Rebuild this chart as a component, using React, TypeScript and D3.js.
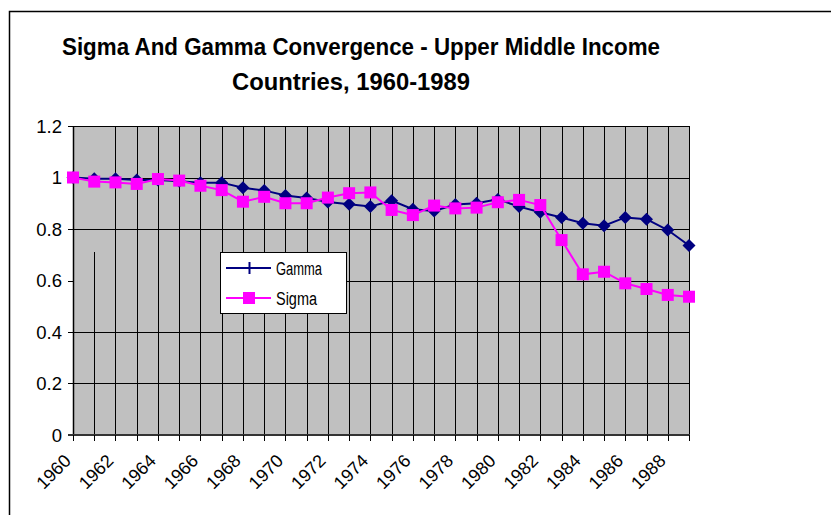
import { useEffect, useRef } from 'react'
import * as d3 from 'd3'

const years = [
  1960, 1961, 1962, 1963, 1964, 1965, 1966, 1967, 1968, 1969,
  1970, 1971, 1972, 1973, 1974, 1975, 1976, 1977, 1978, 1979,
  1980, 1981, 1982, 1983, 1984, 1985, 1986, 1987, 1988, 1989
]

const gamma = [
  1.0, 0.995, 0.995, 0.99, 0.99, 0.985, 0.98, 0.98, 0.96, 0.95,
  0.93, 0.92, 0.905, 0.896, 0.887, 0.91, 0.877, 0.87, 0.895, 0.9,
  0.915, 0.887, 0.865, 0.845, 0.822, 0.813, 0.845, 0.838, 0.796, 0.736
]

const sigma = [
  1.0, 0.984, 0.981, 0.975, 0.994, 0.988, 0.968, 0.951, 0.906, 0.925,
  0.9, 0.9, 0.922, 0.939, 0.942, 0.874, 0.854, 0.891, 0.88, 0.883,
  0.904, 0.913, 0.893, 0.757, 0.624, 0.634, 0.589, 0.567, 0.544, 0.537
]

const yTicks = [0, 0.2, 0.4, 0.6, 0.8, 1, 1.2]
const xLabels = [1960, 1962, 1964, 1966, 1968, 1970, 1972, 1974, 1976, 1978, 1980, 1982, 1984, 1986, 1988]

const titleLines = ['Sigma And Gamma Convergence - Upper Middle Income', 'Countries, 1960-1989']

const FONT = '"Liberation Sans", Arial, sans-serif'

export default function App() {
  const svgRef = useRef<SVGSVGElement>(null)

  useEffect(() => {
    if (!svgRef.current) return
    const width = 831
    const height = 515
    const margin = { top: 126, right: 142, bottom: 80, left: 73 }
    const legendBox = { x: 220, y: 252, w: 126, h: 61 }

    const svg = d3.select(svgRef.current)
    svg.selectAll('*').remove()
    svg.attr('width', width).attr('height', height)

    // chart frame (top + left only visible)
    svg.append('path')
      .attr('d', `M9.5,${height} V11.5 H${width}`)
      .attr('fill', 'none')
      .attr('stroke', '#000')
      .attr('stroke-width', 1.5)

    // title
    svg.append('g')
      .selectAll('text')
      .data(titleLines)
      .enter()
      .append('text')
      .attr('x', (_d: string, i: number) => (i === 0 ? 361 : 351))
      .attr('y', (_d: string, i: number) => (i === 0 ? 55 : 90))
      .attr('text-anchor', 'middle')
      .attr('font-family', FONT)
      .attr('font-weight', 'bold')
      .attr('font-size', 24.5)
      .attr('textLength', (_d: string, i: number) => (i === 0 ? 598 : 238))
      .attr('lengthAdjust', 'spacingAndGlyphs')
      .text((d: string) => d)

    const x = d3.scalePoint<number>()
      .domain(years)
      .range([margin.left, width - margin.right])

    const y = d3.scaleLinear()
      .domain([0, 1.2])
      .range([height - margin.bottom, margin.top])

    const x0 = margin.left
    const x1 = width - margin.right
    const yb = y(0)
    const yt = y(1.2)

    // plot area
    svg.append('rect')
      .attr('x', x0)
      .attr('y', yt)
      .attr('width', x1 - x0)
      .attr('height', yb - yt)
      .attr('fill', '#c0c0c0')

    // vertical gridlines
    svg.append('g')
      .selectAll('line')
      .data(years)
      .enter()
      .append('line')
      .attr('x1', (d: number) => Math.round(x(d)!) + 0.5)
      .attr('x2', (d: number) => Math.round(x(d)!) + 0.5)
      .attr('y1', (d: number) => (d === 1961 ? legendBox.y : yt))
      .attr('y2', yb)
      .attr('stroke', '#000')
      .attr('stroke-width', 1)

    // horizontal gridlines
    svg.append('g')
      .selectAll('line')
      .data(yTicks.slice(1))
      .enter()
      .append('line')
      .attr('x1', (d: number) => (d === 0.6 ? legendBox.x + legendBox.w : x0))
      .attr('x2', x1)
      .attr('y1', (d: number) => Math.round(y(d)) + 0.5)
      .attr('y2', (d: number) => Math.round(y(d)) + 0.5)
      .attr('stroke', '#000')
      .attr('stroke-width', 1)

    // plot border right
    svg.append('line')
      .attr('x1', Math.round(x1) + 0.5).attr('x2', Math.round(x1) + 0.5)
      .attr('y1', yt).attr('y2', yb + 5)
      .attr('stroke', '#000')

    // y axis
    const yAxis = svg.append('g')
    yAxis.append('line')
      .attr('x1', x0 + 0.5).attr('x2', x0 + 0.5)
      .attr('y1', yt).attr('y2', yb)
      .attr('stroke', '#000').attr('stroke-width', 1.5)
    yAxis.selectAll('line.tick')
      .data(yTicks)
      .enter()
      .append('line')
      .attr('class', 'tick')
      .attr('x1', x0 - 5).attr('x2', x0)
      .attr('y1', (d: number) => Math.round(y(d)) + 0.5)
      .attr('y2', (d: number) => Math.round(y(d)) + 0.5)
      .attr('stroke', '#000')
    yAxis.selectAll('text')
      .data(yTicks)
      .enter()
      .append('text')
      .attr('x', 62)
      .attr('y', (d: number) => y(d) + 6.5)
      .attr('text-anchor', 'end')
      .attr('font-family', FONT)
      .attr('font-size', 18.5)
      .text((d: number) => String(d))

    // x axis
    const xAxis = svg.append('g')
    xAxis.append('line')
      .attr('x1', x0 - 5).attr('x2', x1 + 1)
      .attr('y1', yb).attr('y2', yb)
      .attr('stroke', '#333').attr('stroke-width', 2)
    xAxis.selectAll('line.tick')
      .data(years)
      .enter()
      .append('line')
      .attr('class', 'tick')
      .attr('x1', (d: number) => Math.round(x(d)!) + 0.5)
      .attr('x2', (d: number) => Math.round(x(d)!) + 0.5)
      .attr('y1', yb).attr('y2', yb + 6)
      .attr('stroke', '#000')
    xAxis.selectAll('text')
      .data(xLabels)
      .enter()
      .append('text')
      .attr('transform', (d: number) => `translate(${x(d)! - 1},${yb + 27}) rotate(-45)`)
      .attr('text-anchor', 'end')
      .attr('font-family', FONT)
      .attr('font-size', 18)
      .text((d: number) => String(d))

    const line = d3.line<number>()
      .x((_d: number, i: number) => x(years[i])!)
      .y((d: number) => y(d))

    // Gamma
    svg.append('path')
      .datum(gamma)
      .attr('fill', 'none')
      .attr('stroke', '#000080')
      .attr('stroke-width', 2)
      .attr('d', line)
    svg.append('g')
      .selectAll('path')
      .data(gamma)
      .enter()
      .append('path')
      .attr('transform', (d: number, i: number) => `translate(${x(years[i])},${y(d)})`)
      .attr('d', 'M0,-6.5 L6.5,0 L0,6.5 L-6.5,0 Z')
      .attr('fill', '#000080')

    // Sigma
    svg.append('path')
      .datum(sigma)
      .attr('fill', 'none')
      .attr('stroke', '#ff00ff')
      .attr('stroke-width', 2)
      .attr('d', line)
    svg.append('g')
      .selectAll('rect')
      .data(sigma)
      .enter()
      .append('rect')
      .attr('x', (_d: number, i: number) => x(years[i])! - 6)
      .attr('y', (d: number) => y(d) - 6)
      .attr('width', 12)
      .attr('height', 12)
      .attr('fill', '#ff00ff')

    // legend
    const lg = svg.append('g')
    lg.append('rect')
      .attr('x', legendBox.x + 0.5)
      .attr('y', legendBox.y + 0.5)
      .attr('width', legendBox.w)
      .attr('height', legendBox.h)
      .attr('fill', '#fff')
      .attr('stroke', '#000')
    const items = [
      { name: 'Gamma', color: '#000080', ly: 268, tw: 46 },
      { name: 'Sigma', color: '#ff00ff', ly: 298, tw: 41 }
    ]
    items.forEach((it, i) => {
      lg.append('line')
        .attr('x1', 226).attr('x2', 271)
        .attr('y1', it.ly).attr('y2', it.ly)
        .attr('stroke', it.color).attr('stroke-width', 2)
      if (i === 0) {
        lg.append('line')
          .attr('x1', 249.5).attr('x2', 249.5)
          .attr('y1', it.ly - 6).attr('y2', it.ly + 6)
          .attr('stroke', it.color).attr('stroke-width', 2)
      } else {
        lg.append('rect')
          .attr('x', 243).attr('y', it.ly - 6)
          .attr('width', 12).attr('height', 12)
          .attr('fill', it.color)
      }
      lg.append('text')
        .attr('x', 276)
        .attr('y', it.ly + 6.5)
        .attr('font-family', FONT)
        .attr('font-size', 18)
        .attr('textLength', it.tw)
        .attr('lengthAdjust', 'spacingAndGlyphs')
        .text(it.name)
    })
  }, [])

  return (
    <svg ref={svgRef} style={{ position: 'absolute', left: 0, top: 0, background: '#fff' }} />
  )
}
